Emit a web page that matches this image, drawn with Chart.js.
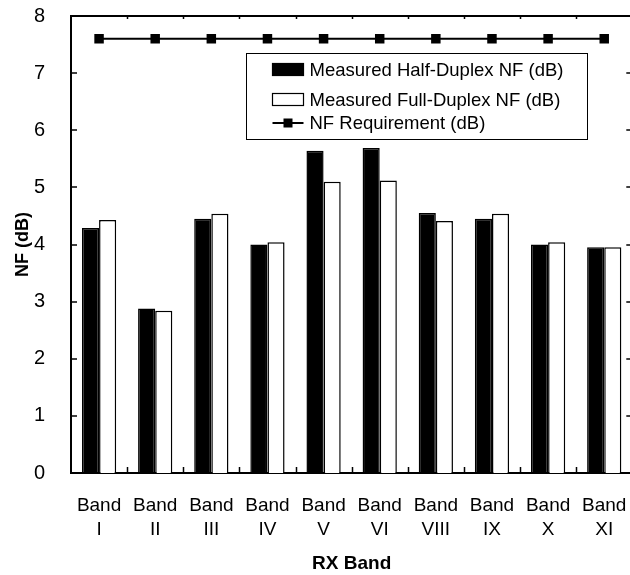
<!DOCTYPE html>
<html>
<head>
<meta charset="utf-8">
<script src="https://cdn.jsdelivr.net/npm/chart.js@4"></script>
<style>
  html, body { margin: 0; padding: 0; background: #fff; overflow: hidden; }
  #wrap { width: 639px; height: 575px; }
</style>
</head>
<body>
<div id="wrap"><canvas id="nf-chart" width="639" height="575"></canvas></div>
<script>
// RX bands (two-line tick labels)
const bands = [
  ['Band', 'I'], ['Band', 'II'], ['Band', 'III'], ['Band', 'IV'], ['Band', 'V'],
  ['Band', 'VI'], ['Band', 'VIII'], ['Band', 'IX'], ['Band', 'X'], ['Band', 'XI']
];
const halfDuplexNF = [4.29, 2.88, 4.45, 4.00, 5.64, 5.69, 4.55, 4.45, 4.00, 3.95];
const fullDuplexNF = [4.43, 2.84, 4.54, 4.04, 5.10, 5.12, 4.41, 4.54, 4.04, 3.95];
const nfRequirement = [7.6, 7.6, 7.6, 7.6, 7.6, 7.6, 7.6, 7.6, 7.6, 7.6];
const yMin = 0, yMax = 8, yStep = 1;

// top/right frame + inward tick marks
const frameTicks = {
  id: 'frameTicks',
  afterDatasetsDraw(chart) {
    const { ctx, chartArea: a, scales: { x, y } } = chart;
    ctx.save();
    ctx.strokeStyle = '#000';
    ctx.lineWidth = 2;
    ctx.beginPath();
    ctx.moveTo(a.left, a.top);
    ctx.lineTo(a.right, a.top);
    ctx.lineTo(a.right, a.bottom);
    ctx.stroke();

    ctx.lineWidth = 1.5;
    ctx.beginPath();
    y.ticks.forEach(t => {
      const py = Math.round(y.getPixelForValue(t.value));
      ctx.moveTo(a.left, py); ctx.lineTo(a.left + 6, py);
      ctx.moveTo(a.right, py); ctx.lineTo(a.right - 6, py);
    });
    for (let i = 1; i < bands.length; i++) {
      const px = Math.round(x.getPixelForValue(i - 0.5)) + 0.5;
      ctx.moveTo(px, a.bottom); ctx.lineTo(px, a.bottom - 6);
      ctx.moveTo(px, a.top); ctx.lineTo(px, a.top + 3);
    }
    ctx.stroke();
    ctx.restore();
  }
};

// boxed legend inside the plot
const boxLegend = {
  id: 'boxLegend',
  afterDraw(chart) {
    const { ctx, chartArea: a } = chart;
    const bx = a.left + 175.5, by = a.top + 37.5, bw = 341, bh = 86;
    const rows = [16, 46, 69.5];
    ctx.save();
    ctx.fillStyle = '#fff';
    ctx.fillRect(bx, by, bw, bh);
    ctx.strokeStyle = '#000';
    ctx.lineWidth = 1;
    ctx.strokeRect(bx, by, bw, bh);
    ctx.font = '18.5px Arial';
    ctx.textBaseline = 'middle';
    chart.data.datasets.forEach((ds, i) => {
      const cy = by + rows[i];
      const sx = bx + 26;
      if (ds.type === 'line') {
        ctx.strokeStyle = ds.borderColor;
        ctx.lineWidth = ds.borderWidth;
        ctx.beginPath();
        ctx.moveTo(sx, cy); ctx.lineTo(sx + 31, cy);
        ctx.stroke();
        ctx.fillStyle = ds.pointBackgroundColor;
        ctx.fillRect(sx + 15.5 - 4.5, cy - 4.5, 9, 9);
      } else {
        ctx.fillStyle = ds.backgroundColor;
        ctx.fillRect(sx, cy - 6, 31, 12);
        ctx.strokeStyle = ds.borderColor;
        ctx.lineWidth = 1.2;
        ctx.strokeRect(sx, cy - 6, 31, 12);
      }
      ctx.fillStyle = '#000';
      ctx.fillText(ds.label, sx + 37, cy + 1);
    });
    ctx.restore();
  }
};

const ctx = document.getElementById('nf-chart');
const nfChart = new Chart(ctx, {
  type: 'bar',
  data: {
    labels: bands,
    datasets: [
      {
        label: 'Measured Half-Duplex NF (dB)',
        data: halfDuplexNF,
        backgroundColor: '#000',
        borderColor: '#000',
        borderWidth: 1.5,
        categoryPercentage: 0.61,
        barPercentage: 1.0,
        order: 2
      },
      {
        label: 'Measured Full-Duplex NF (dB)',
        data: fullDuplexNF,
        backgroundColor: '#fff',
        borderColor: '#000',
        borderWidth: 1.5,
        categoryPercentage: 0.61,
        barPercentage: 1.0,
        order: 2
      },
      {
        type: 'line',
        label: 'NF Requirement (dB)',
        data: nfRequirement,
        borderColor: '#000',
        borderWidth: 2,
        pointStyle: 'rect',
        pointRadius: 6.7,
        pointBackgroundColor: '#000',
        pointBorderColor: '#000',
        pointBorderWidth: 0,
        order: 1
      }
    ]
  },
  options: {
    responsive: false,
    animation: false,
    layout: { padding: { top: 16, right: 3, left: 0, bottom: 0 } },
    plugins: {
      legend: { display: false },
      tooltip: { enabled: false }
    },
    scales: {
      x: {
        grid: { display: false },
        border: { display: true, color: '#000', width: 2 },
        ticks: {
          color: '#000',
          font: { family: 'Arial', size: 19, lineHeight: 1.26 },
          padding: 13,
          maxRotation: 0,
          autoSkip: false
        },
        title: {
          display: true,
          text: 'RX Band',
          color: '#000',
          font: { family: 'Arial', size: 19, weight: 'bold' },
          padding: { top: 0, bottom: 0 }
        },
        afterFit(scale) {
          scale.height = 102;
          scale.paddingLeft = 0;
          scale.paddingRight = 0;
        }
      },
      y: {
        min: yMin,
        max: yMax,
        grid: { display: false },
        border: { display: true, color: '#000', width: 2 },
        ticks: {
          stepSize: yStep,
          color: '#000',
          font: { family: 'Arial', size: 20 },
          padding: 18
        },
        title: {
          display: true,
          text: 'NF (dB)',
          color: '#000',
          font: { family: 'Arial', size: 18, weight: 'bold' },
          padding: { top: 12, bottom: 0 }
        },
        afterFit(scale) {
          scale.width = 71;
          scale.paddingTop = 0;
          scale.paddingBottom = 0;
        }
      }
    }
  },
  plugins: [frameTicks, boxLegend]
});
</script>
</body>
</html>
